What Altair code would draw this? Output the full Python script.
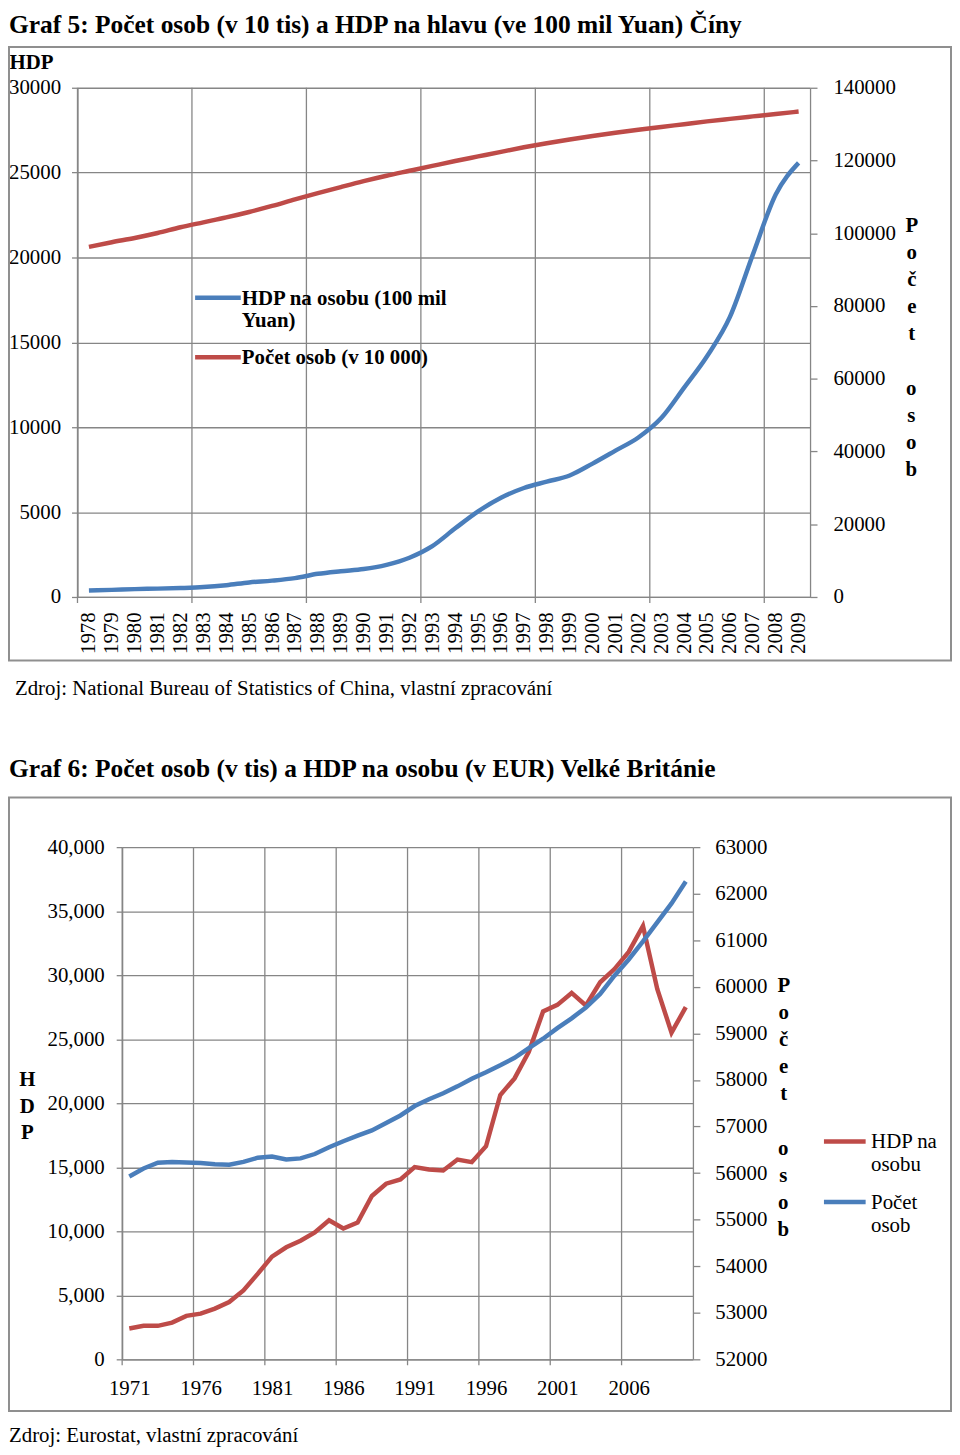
import altair as alt
import pandas as pd

SERIF = "Liberation Serif"
GRID = "#868686"
BOX = "#8f8f8f"
BLUE = "#4a7ebb"
RED = "#be4b48"

# ---------------- Graf 5 data (China) ----------------
cn_title = "Graf 5: Počet osob (v 10 tis) a HDP na hlavu (ve 100 mil Yuan) Číny"
cn_source = "Zdroj: National Bureau of Statistics of China, vlastní zpracování"
cn_years = list(range(1978, 2010))
cn_hdp = [381, 419, 463, 492, 528, 583, 695, 858, 963, 1112, 1366, 1519, 1644, 1893,
          2311, 2998, 4044, 5046, 5846, 6420, 6796, 7159, 7858, 8622, 9398, 10542,
          12336, 14185, 16500, 20169, 23708, 25575]
cn_pop = [96259, 97542, 98705, 100072, 101654, 103008, 104357, 105851, 107507, 109300,
          111026, 112704, 114333, 115823, 117171, 118517, 119850, 121121, 122389, 123626,
          124761, 125786, 126743, 127627, 128453, 129227, 129988, 130756, 131448, 132129,
          132802, 133450]
cn_series = ["HDP na osobu (100 mil Yuan)", "Počet osob (v 10 000)"]
cn_left_ticks = [0, 5000, 10000, 15000, 20000, 25000, 30000]
cn_right_ticks = [0, 20000, 40000, 60000, 80000, 100000, 120000, 140000]

# ---------------- Graf 6 data (UK) ----------------
uk_title = "Graf 6: Počet osob (v tis) a HDP na osobu (v EUR) Velké Británie"
uk_source = "Zdroj: Eurostat, vlastní zpracování"
uk_years = list(range(1971, 2011))
uk_hdp = [2406, 2615, 2615, 2871, 3391, 3570, 3958, 4478, 5386, 6675, 8025, 8747, 9265,
          9910, 10865, 10220, 10690, 12758, 13715, 14050, 15010, 14825, 14745, 15600,
          15398, 16640, 20644, 21940, 24013, 27165, 27683, 28615, 27630, 29445, 30478,
          31820, 33838, 28926, 25510, 27505]
uk_pop = [55928, 56097, 56223, 56236, 56226, 56216, 56190, 56178, 56240, 56330, 56357,
          56291, 56316, 56409, 56554, 56684, 56804, 56916, 57076, 57237, 57439, 57585,
          57714, 57862, 58025, 58164, 58314, 58475, 58684, 58886, 59113, 59323, 59557,
          59846, 60238, 60587, 60975, 61382, 61792, 62262]
uk_series = ["HDP na osobu", "Počet osob"]
uk_left_ticks = list(range(0, 40001, 5000))
uk_right_ticks = list(range(52000, 63001, 1000))

VT_TOP = ["P", "o", "č", "e", "t"]
VT_BOTTOM = ["o", "s", "o", "b"]


def series_df(years, values, name):
    return pd.DataFrame({"pos": [y - years[0] + 0.5 for y in years],
                         "value": values, "series": name})


def one_row(text):
    return pd.DataFrame({"t": [text]})


def stacked_text(lines, x, y):
    return alt.Chart(one_row("")).mark_text(
        align="center", baseline="top", font=SERIF, fontSize=21, fontWeight="bold",
        lineHeight=27.2, color="black").encode(
        x=alt.value(x), y=alt.value(y), text=alt.value(lines))


# ================= Chart 1 =================
W1, H1 = 738, 513
n1 = len(cn_years)
x1 = alt.X("pos:Q", title=None,
           scale=alt.Scale(domain=[0, n1], nice=False, zero=False),
           axis=alt.Axis(values=[i + 0.5 for i in range(n1)],
                         labelExpr=f"'' + (floor(datum.value) + {cn_years[0]})",
                         ticks=False, grid=False, labelAngle=270, labelPadding=15,
                         labelFontSize=21, labelOverlap=False))
col1 = alt.Color("series:N",
                 scale=alt.Scale(domain=cn_series, range=[BLUE, RED]),
                 legend=alt.Legend(title=None, orient="none", legendX=131, legendY=191,
                                   symbolType="M-4,1.739H4", symbolSize=132.25,
                                   symbolStrokeWidth=4.5, labelFontSize=21,
                                   labelFontWeight="bold", labelOffset=13.5,
                                   labelBaseline="top", rowPadding=5, padding=0,
                                   labelLimit=400,
                                   labelExpr=f"datum.label == '{cn_series[0]}' ? ['HDP na osobu (100 mil', 'Yuan)'] : datum.label"))

box1 = alt.Chart(one_row("")).mark_rect(fill="transparent", stroke=BOX, strokeWidth=2).encode(
    x=alt.value(-69), x2=alt.value(880), y=alt.value(-41), y2=alt.value(577))
grid1 = alt.Chart(pd.DataFrame({"pos": list(range(0, n1, 5))})).mark_rule(
    color=GRID, strokeWidth=1.3).encode(x=x1, y=alt.value(0), y2=alt.value(H1 + 6))
line1a = alt.Chart(series_df(cn_years, cn_hdp, cn_series[0])).mark_line(
    strokeWidth=4.5, interpolate="monotone").encode(
    x=x1,
    y=alt.Y("value:Q", scale=alt.Scale(domain=[0, 30000], nice=False),
            axis=alt.Axis(values=cn_left_ticks, format="d", orient="left", grid=True,
                          tickSize=6, labelPadding=11, labelFontSize=21,
                          title="HDP", titleAngle=0, titleX=-69, titleY=-25,
                          titleAlign="left", titleBaseline="middle", titleFontSize=21,
                          titleFontWeight="bold")),
    color=col1)
line1b = alt.Chart(series_df(cn_years, cn_pop, cn_series[1])).mark_line(
    strokeWidth=4.5, interpolate="monotone").encode(
    x=x1,
    y=alt.Y("value:Q", scale=alt.Scale(domain=[0, 140000], nice=False),
            axis=alt.Axis(values=cn_right_ticks, format="d", orient="right", grid=False,
                          tickSize=7, labelPadding=16, labelFontSize=21,
                          title=VT_TOP, titleAngle=0, titleX=102, titleY=128,
                          titleAlign="center", titleBaseline="top", titleFontSize=21,
                          titleFontWeight="bold", titleLineHeight=27.2)),
    color=col1)
vt1 = stacked_text(VT_BOTTOM, W1 + 102, 293)
title1 = alt.Chart(one_row(cn_title)).mark_text(
    align="left", baseline="middle", font=SERIF, fontSize=25.6, fontWeight="bold",
    color="black").encode(x=alt.value(-69), y=alt.value(-63), text="t:N")
src1 = alt.Chart(one_row(cn_source)).mark_text(
    align="left", baseline="middle", font=SERIF, fontSize=21, color="black").encode(
    x=alt.value(-63), y=alt.value(606), text="t:N")

chart1 = alt.layer(box1, grid1, line1a, line1b, vt1, title1, src1).resolve_scale(
    y="independent").properties(width=W1, height=H1)

# ================= Chart 2 =================
# group origin shares chart 1's left edge; plot starts 45px further right
W2, H2 = 620, 516
X2_START = 45
n2 = len(uk_years)
x2 = alt.X("pos:Q", title=None,
           scale=alt.Scale(domain=[0, n2], nice=False, zero=False, range=[X2_START, W2]),
           axis=alt.Axis(values=[i + 0.5 for i in range(0, n2, 5)],
                         labelExpr=f"'' + (floor(datum.value) + {uk_years[0]})",
                         ticks=False, grid=False, labelAngle=0, labelPadding=18,
                         labelFontSize=21, labelOverlap=False))
col2 = alt.Color("series:N",
                 scale=alt.Scale(domain=uk_series, range=[RED, BLUE]),
                 legend=alt.Legend(title=None, orient="none", legendX=762.5, legendY=276,
                                   symbolType="M-4,1.905H4", symbolSize=110.25,
                                   symbolStrokeWidth=4.5, labelFontSize=21,
                                   labelOffset=16, labelBaseline="top", rowPadding=6,
                                   padding=0, labelLimit=400,
                                   labelExpr=f"datum.label == '{uk_series[0]}' ? ['HDP na', 'osobu'] : ['Počet', 'osob']"))

box2 = alt.Chart(one_row("")).mark_rect(fill="transparent", stroke=BOX, strokeWidth=2).encode(
    x=alt.value(-69), x2=alt.value(880), y=alt.value(-50), y2=alt.value(568))
grid2 = alt.Chart(pd.DataFrame({"pos": list(range(0, n2, 5))})).mark_rule(
    color=GRID, strokeWidth=1.3).encode(x=x2, y=alt.value(0), y2=alt.value(H2 + 6))
line2a = alt.Chart(series_df(uk_years, uk_hdp, uk_series[0])).mark_line(
    strokeWidth=4.5).encode(
    x=x2,
    y=alt.Y("value:Q", scale=alt.Scale(domain=[0, 40000], nice=False),
            axis=alt.Axis(values=uk_left_ticks, format=",d", orient="left", grid=True,
                          offset=-X2_START,
                          tickSize=6, labelPadding=12, labelFontSize=21,
                          title=["H", "D", "P"], titleAngle=0, titleX=-96, titleY=223,
                          titleAlign="center", titleBaseline="top", titleFontSize=21,
                          titleFontWeight="bold", titleLineHeight=27)),
    color=col2)
line2b = alt.Chart(series_df(uk_years, uk_pop, uk_series[1])).mark_line(
    strokeWidth=4.5).encode(
    x=x2,
    y=alt.Y("value:Q", scale=alt.Scale(domain=[52000, 63000], nice=False, zero=False),
            axis=alt.Axis(values=uk_right_ticks, format="d", orient="right", grid=False,
                          tickSize=7, labelPadding=15, labelFontSize=21,
                          title=VT_TOP, titleAngle=0, titleX=91, titleY=128,
                          titleAlign="center", titleBaseline="top", titleFontSize=21,
                          titleFontWeight="bold", titleLineHeight=27.2)),
    color=col2)
vt2 = stacked_text(VT_BOTTOM, W2 + 91, 293)
title2 = alt.Chart(one_row(uk_title)).mark_text(
    align="left", baseline="middle", font=SERIF, fontSize=25.6, fontWeight="bold",
    color="black").encode(x=alt.value(-69), y=alt.value(-79), text="t:N")
src2 = alt.Chart(one_row(uk_source)).mark_text(
    align="left", baseline="middle", font=SERIF, fontSize=21, color="black").encode(
    x=alt.value(-69), y=alt.value(593), text="t:N")

chart2 = alt.layer(box2, grid2, line2a, line2b, vt2, title2, src2).resolve_scale(
    y="independent").properties(width=W2, height=H2)

chart = alt.concat(chart1, chart2, columns=1, spacing=58).resolve_scale(
    color="independent").properties(padding=0).configure_view(strokeWidth=0).configure_axis(
    labelFont=SERIF, titleFont=SERIF, labelColor="black", titleColor="black",
    domainColor=GRID, tickColor=GRID, gridColor=GRID, domainWidth=1.3, tickWidth=1.3,
    gridWidth=1.3).configure_axisX(labelOverlap=False).configure_legend(
    labelFont=SERIF, labelColor="black")

chart.save("out.html", embed_options={"renderer": "svg", "actions": False})
